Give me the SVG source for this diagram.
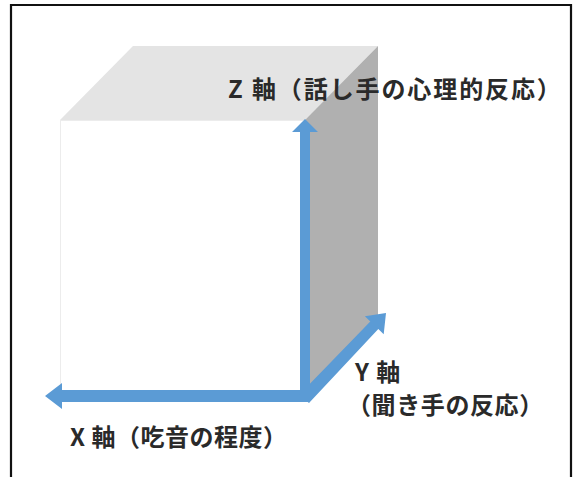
<svg xmlns="http://www.w3.org/2000/svg" width="576" height="477" viewBox="0 0 576 477">
<style>
.lbl{font-family:"Noto Sans CJK JP","Noto Sans",sans-serif;font-weight:700;font-size:24px;fill:#2a2a2a}
.axis{fill:#5b9bd5}
</style>
<rect width="576" height="477" fill="#ffffff"/>
<path d="M11,482 V5 H571 V482" fill="none" stroke="#111" stroke-width="2.2"/>
<g id="cube">
<polygon points="60,120 133,46 378,46 305,120" fill="#e4e4e4"/>
<polygon points="305,120 378,46 378,318 305,392" fill="#b0b0b0"/>
<rect x="60.5" y="120.5" width="245" height="272" fill="#ffffff" stroke="#ececec" stroke-width="1"/>
</g>
<g id="connectors">
<polygon class="axis" points="310,402 62,402 62,409 45,396 62,383 62,390 300,390 300,132 292,132 305,119 318,132 310,132"/>
<polygon class="axis" points="299,395 370.3,321.5 364.9,316.3 386,313 383.7,334.3 378.3,329.1 309,403"/>
</g>
<g id="z-label"><text class="lbl" x="228" y="98" letter-spacing="1.9">Z 軸（話し手の心理的反応）</text></g>
<g id="y-label"><text class="lbl" x="355" y="381" font-size="22" letter-spacing="1">Y 軸</text>
<text class="lbl" x="347" y="414" font-size="22" letter-spacing="0.6">（聞き手の反応）</text></g>
<g id="x-label"><text class="lbl" x="70" y="446" letter-spacing="0.5">X 軸（吃音の程度）</text></g>
</svg>
